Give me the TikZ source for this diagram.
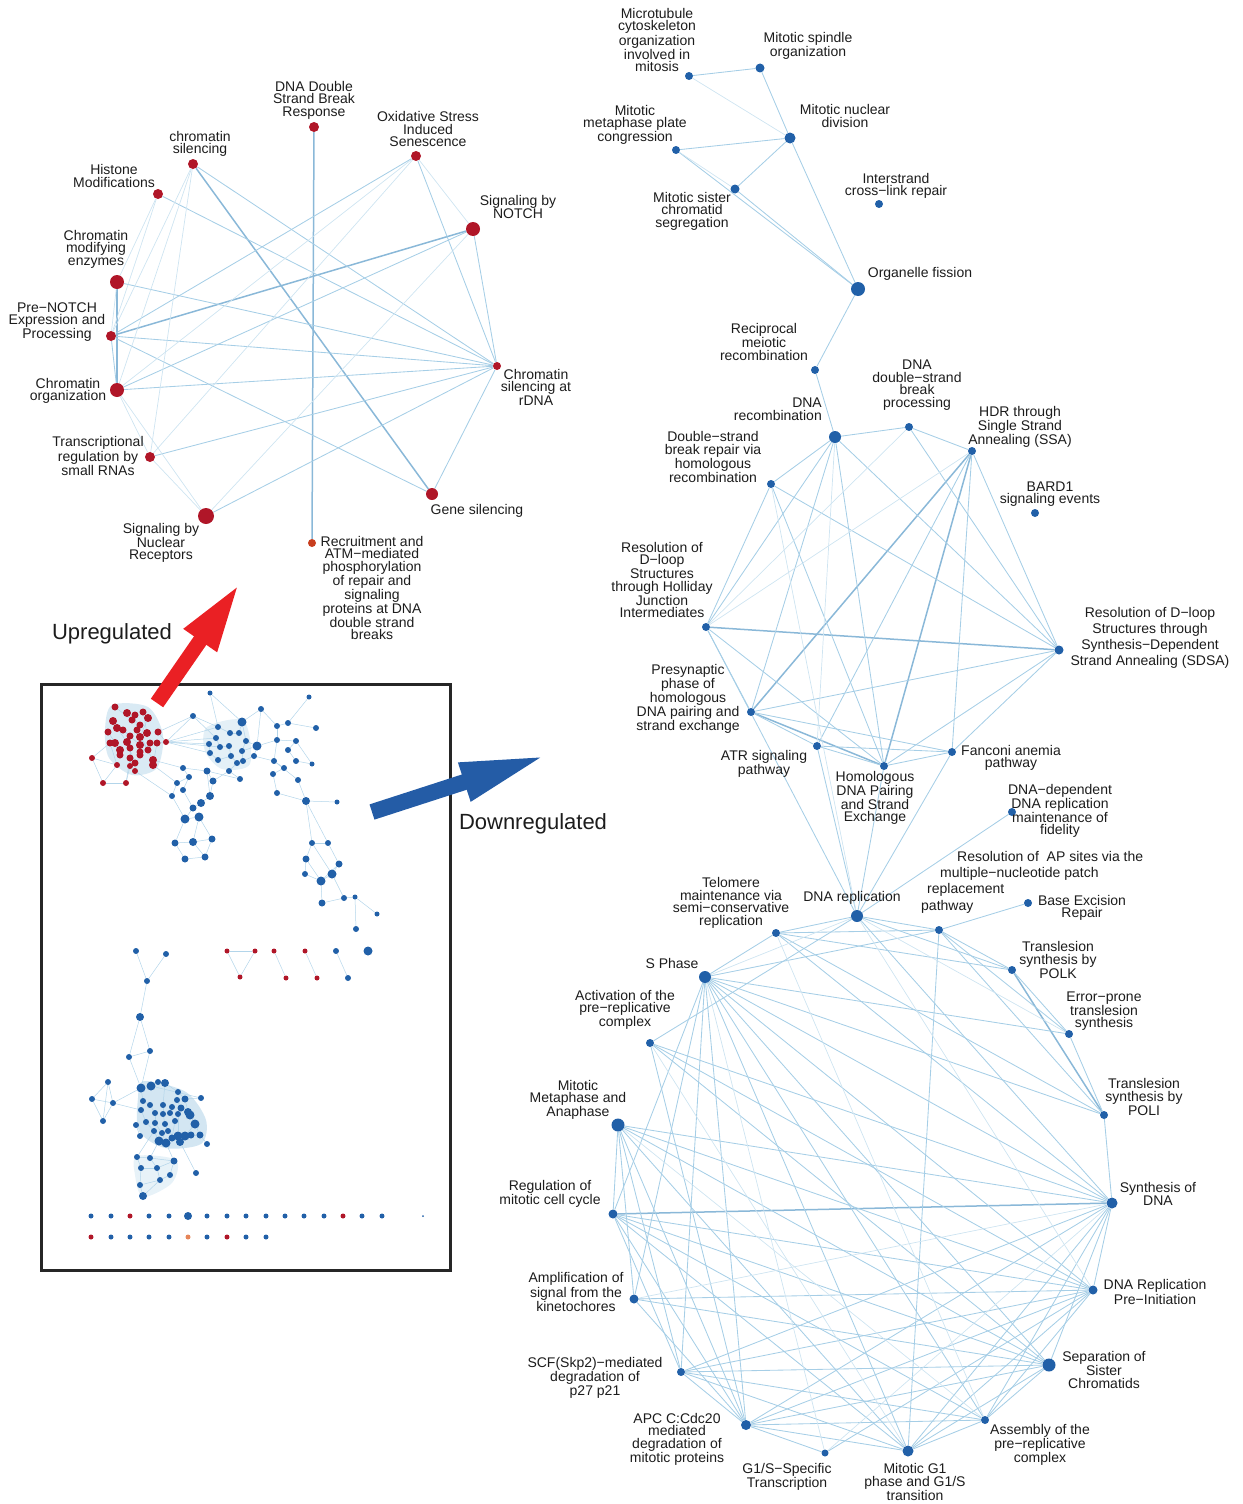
\documentclass[tikz,border=0pt]{standalone}
\usepackage{fontspec}
\setmainfont{Liberation Sans}
\usetikzlibrary{arrows.meta,backgrounds}

\definecolor{upred}{RGB}{176,22,40}
\definecolor{recrorange}{RGB}{200,62,30}
\definecolor{downblue}{RGB}{33,96,168}
\definecolor{edgeblue}{RGB}{166,206,230}
\definecolor{heavyblue}{RGB}{138,184,216}
\definecolor{blobblue}{RGB}{196,222,238}
\definecolor{arrowred}{RGB}{234,32,36}
\definecolor{arrowblue}{RGB}{36,92,166}
\definecolor{textgray}{RGB}{28,28,28}

\begin{document}
\begin{tikzpicture}[
    x=1pt, y=-1pt,
    updot/.style={circle, fill=upred, inner sep=0pt, minimum size=#1},
    updot/.default=10pt,
    downdot/.style={circle, fill=downblue, inner sep=0pt, minimum size=#1},
    downdot/.default=8pt,
    mini/.style={circle, inner sep=0pt, minimum size=#1},
    lab/.style={font=\fontsize{14}{12.5}\selectfont, align=center, inner sep=0pt, text=textgray},
    biglab/.style={font=\fontsize{22}{24}\selectfont, inner sep=0pt, text=textgray},
    link/.style={draw=edgeblue, line width=0.85pt},
    faint/.style={draw=edgeblue!55, line width=0.7pt},
    heavy/.style={draw=heavyblue, line width=1.5pt},
    thin/.style={draw=edgeblue!85, line width=0.5pt}
  ]
\useasboundingbox (0,0) rectangle (1242,1504);

% ---- upregulated circle ----
\node[updot] (dsb) at (314,127) {};
\node[updot] (oxi) at (416,156) {};
\node[updot=14pt] (notch) at (473,229) {};
\node[updot=8pt] (rdna) at (497,366) {};
\node[updot=12pt] (gene) at (432,494) {};
\node[updot=8pt, fill=recrorange] (recr) at (312,543) {};
\node[updot=16pt] (nucrec) at (206,516) {};
\node[updot] (trans) at (150,457) {};
\node[updot=14pt] (corg) at (117,390) {};
\node[updot] (prenotch) at (111,336) {};
\node[updot=14pt] (cme) at (117,282) {};
\node[updot] (histone) at (158,194) {};
\node[updot] (csil) at (193,164) {};

\node[lab] (dsb-l) at (314,100) {DNA Double\\Strand Break\\Response};
\node[lab] (oxi-l) at (428,129) {Oxidative Stress\\Induced\\Senescence};
\node[lab] (notch-l) at (518,207) {Signaling by\\NOTCH};
\node[lab] (rdna-l) at (536,387) {Chromatin\\silencing at\\rDNA};
\node[lab] (gene-l) at (477,511) {Gene silencing};
\node[lab] (recr-l) at (372,588) {Recruitment and\\ATM−mediated\\phosphorylation\\of repair and\\signaling\\proteins at DNA\\double strand\\breaks};
\node[lab] (nucrec-l) at (161,543) {Signaling by\\Nuclear\\Receptors};
\node[lab] (trans-l) at (98,456) {Transcriptional\\regulation by\\small RNAs};
\node[lab] (corg-l) at (68,391) {Chromatin\\organization};
\node[lab] (prenotch-l) at (57,322) {Pre−NOTCH\\Expression and\\Processing};
\node[lab] (cme-l) at (96,249) {Chromatin\\modifying\\enzymes};
\node[lab] (histone-l) at (114,176) {Histone\\Modifications};
\node[lab] (csil-l) at (200,144) {chromatin\\silencing};

% ---- downregulated: mitosis group ----
\node[downdot] (mtco) at (689,76) {};
\node[downdot=9pt] (msp) at (760,68) {};
\node[downdot=11pt] (mnd) at (790,138) {};
\node[downdot] (mmp) at (676,150) {};
\node[downdot=9pt] (mscs) at (735,189) {};
\node[downdot] (icl) at (879,204) {};
\node[downdot=14pt] (of) at (858,289) {};
\node[downdot] (rmr) at (815,370) {};

\node[lab] (mtco-l) at (657,40) {Microtubule\\cytoskeleton\\organization\\involved in\\mitosis};
\node[lab] (msp-l) at (808,46) {Mitotic spindle\\organization};
\node[lab] (mnd-l) at (845,116) {Mitotic nuclear\\division};
\node[lab] (mmp-l) at (635,125) {Mitotic\\metaphase plate\\congression};
\node[lab] (mscs-l) at (692,211) {Mitotic sister\\chromatid\\segregation};
\node[lab] (icl-l) at (896,186) {Interstrand\\cross−link repair};
\node[lab] (of-l) at (920,274) {Organelle fission};
\node[lab] (rmr-l) at (764,342) {Reciprocal\\meiotic\\recombination};

% ---- downregulated: recombination group ----
\node[downdot=12pt] (dnarec) at (835,437) {};
\node[downdot] (dsbp) at (909,427) {};
\node[downdot] (hdr) at (972,451) {};
\node[downdot] (bard) at (1035,513) {};
\node[downdot] (dsbr) at (771,484) {};
\node[downdot] (resh) at (706,627) {};
\node[downdot=9pt] (ressd) at (1059,650) {};
\node[downdot] (pres) at (751,712) {};
\node[downdot] (atr) at (817,746) {};
\node[downdot] (hdp) at (884,766) {};
\node[downdot] (fanc) at (952,752) {};
\node[downdot] (ddrf) at (1012,812) {};
\node[downdot=12pt] (dr) at (857,916) {};

\node[lab, align=right, anchor=east] (dnarec-l) at (822,409) {DNA\\recombination};
\node[lab] (dsbp-l) at (917,385) {DNA\\double−strand\\break\\processing};
\node[lab] (hdr-l) at (1020,427) {HDR through\\Single Strand\\Annealing (SSA)};
\node[lab] (bard-l) at (1050,494) {BARD1\\signaling events};
\node[lab] (dsbr-l) at (713,457) {Double−strand\\break repair via\\homologous\\recombination};
\node[lab] (resh-l) at (662,580) {Resolution of\\D−loop\\Structures\\through Holliday\\Junction\\Intermediates};
\node[lab, font=\fontsize{14}{16}\selectfont] (ressd-l) at (1150,638) {Resolution of D−loop\\Structures through\\Synthesis−Dependent\\Strand Annealing (SDSA)};
\node[lab] (pres-l) at (688,699) {Presynaptic\\phase of\\homologous\\DNA pairing and\\strand exchange};
\node[lab] (atr-l) at (764,764) {ATR signaling\\pathway};
\node[lab] (hdp-l) at (875,798) {Homologous\\DNA Pairing\\and Strand\\Exchange};
\node[lab] (fanc-l) at (1011,758) {Fanconi anemia\\pathway};
\node[lab] (ddrf-l) at (1060,811) {DNA−dependent\\DNA replication\\maintenance of\\fidelity};
\node[lab] (dr-l) at (852,898) {DNA replication};

% ---- downregulated: cell cycle / replication circle ----
\node[downdot] (telo) at (776,933) {};
\node[downdot] (apres) at (939,930) {};
\node[downdot] (ber) at (1028,903) {};
\node[downdot] (polk) at (1012,970) {};
\node[downdot] (err) at (1069,1034) {};
\node[downdot] (poli) at (1104,1115) {};
\node[downdot=11pt] (sdna) at (1112,1203) {};
\node[downdot=9pt] (drpi) at (1093,1290) {};
\node[downdot=13pt] (ssc) at (1049,1365) {};
\node[downdot] (apc2) at (985,1420) {};
\node[downdot=11pt] (g1) at (908,1451) {};
\node[downdot=7pt] (g1s) at (825,1453) {};
\node[downdot=10pt] (apc) at (746,1425) {};
\node[downdot] (scf) at (681,1372) {};
\node[downdot=9pt] (amp) at (634,1299) {};
\node[downdot=9pt] (rmcc) at (613,1214) {};
\node[downdot=13pt] (mma) at (618,1125) {};
\node[downdot] (act) at (650,1043) {};
\node[downdot=12pt] (sph) at (705,977) {};

\node[lab] (telo-l) at (731,903) {Telomere\\maintenance via\\semi−conservative\\replication};
\node[lab, align=left, anchor=north west, font=\fontsize{14}{16.3}\selectfont] (apres-l) at (921,851)
  {\hspace*{36pt}Resolution of\ \ AP sites via the\\\hspace*{19pt}multiple−nucleotide patch\\\hspace*{6pt}replacement\\pathway};
\node[lab] (ber-l) at (1082,908) {Base Excision\\Repair};
\node[lab] (polk-l) at (1058,960) {Translesion\\synthesis by\\POLK};
\node[lab] (err-l) at (1104,1011) {Error−prone\\translesion\\synthesis};
\node[lab] (poli-l) at (1144,1097) {Translesion\\synthesis by\\POLI};
\node[lab] (sdna-l) at (1158,1194) {Synthesis of\\DNA};
\node[lab] (drpi-l) at (1155,1292) {DNA Replication\\Pre−Initiation};
\node[lab] (ssc-l) at (1104,1370) {Separation of\\Sister\\Chromatids};
\node[lab] (apc2-l) at (1040,1445) {Assembly of the\\pre−replicative\\complex};
\node[lab] (g1-l) at (915,1482) {Mitotic G1\\phase and G1/S\\transition};
\node[lab] (g1s-l) at (787,1477) {G1/S−Specific\\Transcription};
\node[lab] (apc-l) at (677,1439) {APC C:Cdc20\\mediated\\degradation of\\mitotic proteins};
\node[lab] (scf-l) at (595,1378) {SCF(Skp2)−mediated\\degradation of\\p27 p21};
\node[lab] (amp-l) at (576,1292) {Amplification of\\signal from the\\kinetochores};
\node[lab] (rmcc-l) at (550,1194) {Regulation of\\mitotic cell cycle};
\node[lab] (mma-l) at (578,1100) {Mitotic\\Metaphase and\\Anaphase};
\node[lab] (act-l) at (625,1010) {Activation of the\\pre−replicative\\complex};
\node[lab] (sph-l) at (672,963) {S Phase};

% ---- overview inset ----
\draw[line width=3pt, draw=black!85] (41,684) rectangle (450,1270);

\foreach \x/\y/\s [count=\n] in {115/707/7pt, 127/713/8pt, 135/715/7pt, 143/712/7pt, 148/718/8pt,
    113/721/8pt, 132/720/7pt, 140/725/7pt, 117/728/8pt, 108/732/7pt, 123/730/7pt, 137/730/7pt,
    147/733/8pt, 158/732/7pt, 130/736/7pt, 140/737/8pt, 115/743/8pt, 127/742/8pt, 140/745/8pt,
    150/743/7pt, 157/743/7pt, 166/742/6pt, 110/743/7pt, 120/750/8pt, 130/748/7pt, 140/752/7pt,
    148/750/7pt, 120/755/7pt, 130/758/7pt, 140/755/7pt, 153/760/8pt, 153/765/8pt, 117/765/6pt,
    135/763/7pt, 130/766/6pt, 135/771/6pt, 92/758/6pt, 103/783/6pt, 126/783/6pt,
    227/951/5pt, 255/951/5pt, 240/977/5pt, 274/951/5pt, 286/978/5pt, 305/951/5pt, 317/978/5pt,
    130/1216/5pt, 343/1216/5pt, 91/1237/5pt, 227/1237/5pt}
  \node[mini=\s, fill=upred] (r\n) at (\x,\y) {};
\node[mini=5pt, fill=upred!45!orange!70] (salmon) at (188,1237) {};

\foreach \x/\y/\s [count=\n] in {193/716/6pt, 210/693/5pt, 218/727/6pt, 230/733/6pt, 239/733/6pt,
    242/722/9pt, 246/741/6pt, 216/738/6pt, 209/744/6pt, 220/747/6pt, 229/746/6pt, 242/751/6pt,
    210/753/6pt, 218/760/6pt, 231/756/6pt, 237/763/6pt, 243/761/6pt, 229/771/6pt, 240/779/6pt,
    309/697/5pt, 261/709/6pt, 277/726/6pt, 288/723/6pt, 316/728/6pt, 257/746/9pt, 277/740/6pt,
    296/741/6pt, 288/750/6pt, 254/756/6pt, 274/761/6pt, 296/761/6pt, 284/768/6pt, 312/764/5pt,
    273/774/6pt, 298/780/6pt, 277/793/6pt, 306/801/8pt, 337/802/5pt, 312/843/6pt, 328/843/6pt,
    306/859/7pt, 339/864/7pt, 305/874/6pt, 321/881/9pt, 332/874/9pt, 322/903/7pt, 344/898/6pt,
    355/897/5pt, 377/914/5pt, 356/929/6pt,
    183/768/6pt, 207/771/7pt, 189/777/6pt, 213/781/7pt, 177/783/6pt, 183/790/6pt, 172/796/6pt,
    210/796/8pt, 201/803/8pt, 193/808/7pt, 185/819/9pt, 199/817/9pt, 175/843/7pt, 193/842/8pt,
    212/839/7pt, 185/859/7pt, 205/857/7pt,
    136/951/6pt, 166/954/6pt, 147/981/6pt, 140/1017/8pt, 129/1057/6pt, 150/1051/6pt,
    108/1082/6pt, 92/1099/6pt, 113/1103/6pt, 103/1121/6pt,
    141/1088/9pt, 151/1086/9pt, 158/1082/6pt, 165/1083/8pt, 178/1092/6pt, 177/1100/6pt,
    185/1099/7pt, 143/1101/6pt, 150/1105/6pt, 163/1105/6pt, 172/1107/6pt, 181/1108/7pt,
    188/1112/8pt, 141/1110/6pt, 155/1113/6pt, 163/1114/6pt, 170/1113/6pt, 178/1114/6pt,
    190/1115/9pt, 195/1124/9pt, 146/1122/6pt, 155/1123/6pt, 165/1124/6pt, 175/1121/6pt,
    154/1131/6pt, 162/1133/6pt, 168/1131/6pt, 178/1136/9pt, 185/1136/9pt, 191/1135/7pt,
    200/1135/7pt, 159/1141/9pt, 166/1143/9pt, 172/1138/7pt, 180/1142/8pt, 136/1125/6pt,
    201/1098/6pt, 207/1144/6pt, 140/1136/6pt,
    137/1157/6pt, 150/1158/6pt, 141/1168/6pt, 157/1168/6pt, 174/1161/7pt, 170/1175/6pt,
    160/1180/6pt, 140/1185/6pt, 143/1196/8pt, 196/1173/6pt,
    336/951/6pt, 348/978/6pt, 368/951/9pt,
    91/1216/5pt, 111/1216/5pt, 149/1216/5pt, 169/1216/5pt, 188/1216/8pt, 207/1216/5pt,
    227/1216/5pt, 246/1216/5pt, 266/1216/5pt, 285/1216/5pt, 304/1216/5pt, 324/1216/5pt,
    362/1216/5pt, 382/1216/5pt, 423/1216/2pt,
    111/1237/5pt, 130/1237/5pt, 149/1237/5pt, 169/1237/5pt, 207/1237/5pt, 246/1237/5pt,
    266/1237/5pt}
  \node[mini=\s, fill=downblue] (b\n) at (\x,\y) {};

% ---- connectors ----
\begin{scope}[on background layer]
  \fill[blobblue!65] plot[smooth cycle] coordinates {(112,705) (148,707) (163,735) (157,768) (132,775) (109,758) (105,730)};
  \fill[blobblue!45] plot[smooth cycle] coordinates {(207,727) (244,721) (250,764) (222,769) (205,751)};
  \fill[blobblue!75] plot[smooth cycle] coordinates {(144,1081) (186,1092) (206,1120) (201,1144) (165,1148) (139,1131) (138,1098)};
  \fill[blobblue!40] plot[smooth cycle] coordinates {(137,1156) (176,1160) (172,1183) (143,1197) (135,1175)};

  \foreach \a/\b in {1/7, 2/8, 3/12, 4/13, 5/16, 6/15, 9/18, 10/24, 11/19, 12/27, 14/22, 15/29,
      16/31, 17/28, 18/34, 20/30, 21/32, 23/33, 25/35, 26/36, 37/23, 37/33, 37/38, 38/33, 38/39,
      39/35, 39/29, 22/20, 40/41, 41/42, 42/40, 43/44, 45/46}
    \draw[thin] (r\a) -- (r\b);
  \foreach \a/\b in {22/8, 22/9, 22/3, 22/13, 22/1, 14/1, 31/51, 32/55, 36/57, 22/10}
    \draw[thin] (r\a) -- (b\b);
  \foreach \a/\b in {1/3, 1/8, 2/3, 2/6, 3/4, 4/5, 5/6, 6/7, 7/12, 8/10, 9/13, 10/11, 11/15,
      12/17, 13/14, 14/15, 15/16, 16/17, 16/18, 18/19, 7/25, 6/21, 12/25, 17/29, 25/26, 25/29,
      21/22, 22/23, 23/24, 22/26, 26/27, 27/28, 28/31, 29/30, 30/32, 31/33, 32/34, 34/36, 35/37,
      36/37, 37/38, 20/23, 27/33, 30/35, 26/30, 21/25,
      37/39, 37/40, 39/40, 39/41, 40/42, 41/43, 42/45, 43/44, 44/45, 44/46, 45/47, 46/47, 47/48,
      48/49, 48/50, 41/44, 42/44, 39/45,
      51/52, 51/53, 52/54, 53/55, 54/58, 55/57, 56/60, 57/61, 58/59, 59/60, 60/61, 61/62, 62/65,
      61/63, 63/64, 64/65, 63/66, 64/67, 66/67, 65/67, 52/58, 53/56, 19/52, 18/54, 62/64,
      68/70, 69/70, 70/71, 71/72, 71/73, 72/73, 72/78, 73/78, 74/75, 74/76, 74/77, 75/76, 76/77,
      75/77, 76/78, 76/91,
      78/79, 79/80, 80/81, 81/82, 82/84, 83/89, 84/114, 85/86, 86/92, 87/93, 88/94, 89/90, 90/96,
      96/97, 91/98, 92/99, 93/100, 94/101, 95/105, 97/108, 98/102, 99/103, 100/104, 101/111,
      102/109, 103/110, 104/112, 105/106, 106/107, 107/108, 108/115, 109/110, 111/112, 113/116,
      78/85, 81/87, 84/90, 97/106, 79/114,
      102/117, 109/118, 110/121, 117/118, 117/119, 118/120, 119/120, 120/121, 121/122, 122/123,
      123/124, 124/125, 119/124, 120/123, 118/121, 112/126, 123/125, 127/128}
    \draw[thin] (b\a) -- (b\b);

  % upregulated
  \foreach \a/\b in {dsb/recr, csil/gene, prenotch/notch, cme/corg}
    \draw[heavy] (\a) -- (\b);
  \foreach \a/\b in {csil/rdna, histone/rdna, cme/rdna, prenotch/rdna, corg/rdna, trans/rdna,
      nucrec/rdna, prenotch/oxi, corg/notch, oxi/rdna, notch/rdna, rdna/gene, prenotch/gene,
      prenotch/corg}
    \draw[link] (\a) -- (\b);
  \foreach \a/\b in {csil/prenotch, csil/corg, csil/trans, histone/cme, histone/prenotch,
      cme/prenotch, corg/trans, trans/nucrec, corg/oxi, trans/oxi, oxi/notch, nucrec/notch,
      corg/nucrec}
    \draw[faint] (\a) -- (\b);

  % mitosis group
  \foreach \a/\b in {mtco/msp, mmp/mnd, mmp/of, mscs/of, mscs/mnd, msp/mnd, mnd/of, of/rmr}
    \draw[link] (\a) -- (\b);
  \foreach \a/\b in {mtco/mnd, mmp/mscs}
    \draw[faint] (\a) -- (\b);

  % recombination group
  \foreach \a/\b in {resh/ressd, hdr/pres, hdr/hdp, pres/hdp}
    \draw[heavy] (\a) -- (\b);
  \foreach \a/\b in {rmr/dnarec, dnarec/dsbp, dnarec/dsbr, dnarec/resh, dnarec/pres,
      dnarec/ressd, dnarec/hdp, dsbp/hdr, dsbp/ressd, hdr/fanc, hdr/ressd, hdr/atr, dsbr/resh,
      dsbr/ressd, dsbr/hdp, resh/pres, resh/hdp, pres/ressd, pres/atr, pres/fanc, atr/hdp,
      atr/fanc, hdp/fanc, hdp/ressd, fanc/ressd, hdp/dr, atr/dr, ddrf/dr, resh/dr, fanc/dr}
    \draw[link] (\a) -- (\b);
  \foreach \a/\b in {dsbp/resh, hdr/resh, dsbr/dr, dnarec/atr}
    \draw[faint] (\a) -- (\b);

  % replication / cell cycle circle
  \foreach \a/\b in {polk/poli, rmcc/sdna}
    \draw[heavy] (\a) -- (\b);
  \foreach \a/\b in {sph/telo, sph/apres, sph/sdna, sph/drpi, sph/ssc, sph/apc2, sph/g1,
      sph/apc, sph/scf, sph/amp, sph/rmcc, sph/poli, sph/err, telo/dr, telo/apres, telo/polk,
      telo/poli, telo/sdna, dr/apres, dr/sdna, dr/act, dr/polk, apres/ber, apres/polk,
      apres/err, apres/poli, apres/g1, polk/err, err/poli, poli/sdna, mma/sdna, mma/drpi,
      mma/ssc, mma/g1, mma/apc, mma/scf, mma/rmcc, mma/amp, act/ssc, act/apc, act/drpi,
      act/sdna, rmcc/drpi, rmcc/ssc, rmcc/apc2, rmcc/g1, rmcc/scf, rmcc/apc, amp/ssc, amp/apc,
      amp/drpi, scf/sdna, scf/drpi, scf/ssc, scf/apc2, scf/g1, scf/apc, apc/sdna, apc/drpi,
      apc/ssc, apc/apc2, apc/g1, g1s/drpi, g1s/apc, g1/sdna, g1/drpi, g1/ssc, g1/apc2,
      apc2/sdna, apc2/drpi, apc2/ssc, ssc/sdna, drpi/sdna}
    \draw[link] (\a) -- (\b);
  \foreach \a/\b in {sph/dr, telo/apc2, dr/err, dr/drpi, mma/apc2, amp/sdna, act/g1,
      g1s/sdna, sph/g1s}
    \draw[faint] (\a) -- (\b);
\end{scope}

% ---- arrows and titles ----
\coordinate (uptail) at (157,703);
\coordinate (uptip) at (240,583);
\coordinate (downtail) at (372,812);
\coordinate (downtip) at (548,755);
\draw[arrowred, line width=15pt, -{Triangle[length=70pt, width=36pt]}] (uptail) -- (uptip);
\draw[arrowblue, line width=16pt, -{Triangle[length=88pt, width=36pt]}] (downtail) -- (downtip);

\node[biglab] (uplab) at (112,634) {Upregulated};
\node[biglab] (downlab) at (533,824) {Downregulated};
\end{tikzpicture}
\end{document}
